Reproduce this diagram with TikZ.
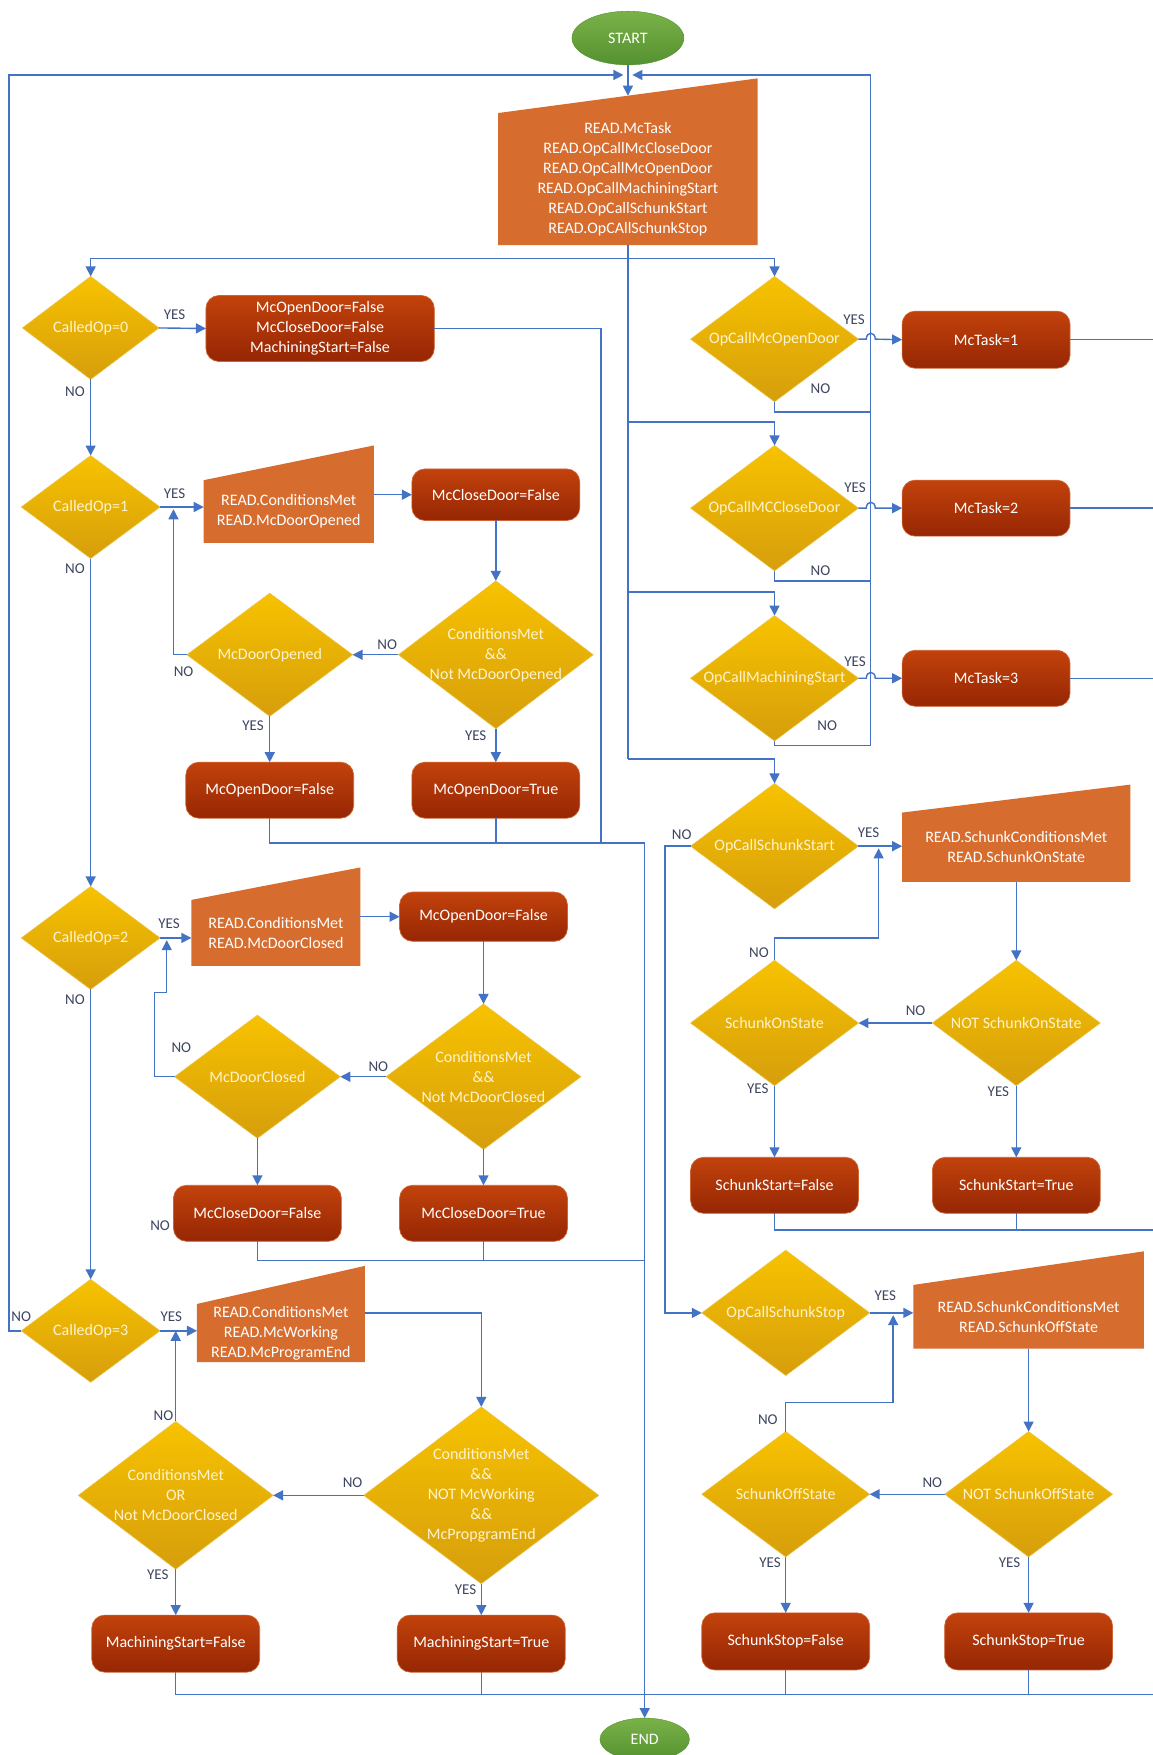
\documentclass[tikz,border=0pt]{standalone}
\usepackage{fontspec}
\setmainfont{Carlito}
\usetikzlibrary{arrows.meta,shapes.geometric,calc}
\definecolor{ln}{RGB}{68,114,196}
\definecolor{lbl}{RGB}{62,70,96}
\definecolor{diaT}{RGB}{247,194,0}
\definecolor{diaB}{RGB}{214,158,12}
\definecolor{diaE}{RGB}{236,196,70}
\definecolor{redT}{RGB}{194,66,12}
\definecolor{redB}{RGB}{150,38,4}
\definecolor{redE}{RGB}{205,100,50}
\definecolor{inp}{RGB}{214,108,46}
\definecolor{grnT}{RGB}{122,178,72}
\definecolor{grnB}{RGB}{84,145,48}
\definecolor{dtx}{RGB}{255,243,205}
\newcommand\K{1.1194}
\newcommand\Dia[6]{\node[dia, minimum width={2*#4*\K*1pt}, minimum height={2*#5*\K*1pt}] (#1) at (#2,#3) {};
  \node[dtxt] (#1t) at (#1.center) {#6};}
\newcommand\Rb[6]{\node[rbox, minimum width={(#3-#2)*\K*1pt}, minimum height={(#5-#4)*\K*1pt}] (#1) at ({(#2+#3)/2},{(#4+#5)/2}) {#6};}
\newcommand\Inp[7]{\fill[inp] (#2,#6) -- (#2,#4) -- (#3,#5) -- (#3,#6) -- cycle;
  \node[itxt, minimum width={(#3-#2)*\K*1pt}, minimum height={(#6-#4)*\K*1pt}] (#1) at ({(#2+#3)/2},{(#4+#6)/2}) {#7};}
\newcommand\Lb[4]{\node[lab] (#1) at (#2,#3) {#4};}
\begin{document}
\begin{tikzpicture}[x=1.1194pt, y=-1.1194pt,
  line/.style={draw=ln, line width=1.4pt},
  arr/.style={line, -{Triangle[length=10pt,width=10pt]}},
  dia/.style={diamond, aspect=1, inner sep=0pt, outer sep=0pt, top color=diaT, bottom color=diaB, draw=diaE, line width=0.6pt},
  dtxt/.style={text=dtx, align=center, font=\fontsize{16}{20}\selectfont, inner sep=0pt},
  rbox/.style={rectangle, rounded corners=13pt, top color=redT, bottom color=redB, draw=redE, line width=0.7pt, text=white, align=center, font=\fontsize{16}{20}\selectfont, inner sep=0pt, outer sep=0pt},
  itxt/.style={rectangle, inner sep=0pt, outer sep=0pt, text=white, align=center, font=\fontsize{16}{20}\selectfont},
  lab/.style={text=lbl, font=\fontsize{15}{18}\selectfont, inner sep=0pt},
  term/.style={ellipse, top color=grnT, bottom color=grnB, draw=grnB, text=white, font=\fontsize{16}{20}\selectfont, inner sep=0pt, outer sep=0pt}]
\useasboundingbox (0,0) rectangle (1030,1568);
\fill[white] (0,0) rectangle (1030,1568);

% terminals
\node[term, minimum width={100*\K*1pt}, minimum height={48*\K*1pt}] (start) at (561,34) {START};
\node[term, minimum width={80*\K*1pt}, minimum height={38*\K*1pt}] (end) at (576,1554) {END};

% input boxes
\Inp{in0}{445}{677}{101}{70}{219}{READ.McTask\\READ.OpCallMcCloseDoor\\READ.OpCallMcOpenDoor\\READ.OpCallMachiningStart\\READ.OpCallSchunkStart\\READ.OpCAllSchunkStop}
\Inp{in1}{182}{334}{429}{398}{485}{READ.ConditionsMet\\READ.McDoorOpened}
\Inp{in2}{171}{322}{804}{775}{863}{READ.ConditionsMet\\READ.McDoorClosed}
\Inp{in3}{176}{326}{1165}{1131}{1217}{READ.ConditionsMet\\READ.McWorking\\READ.McProgramEnd}
\Inp{inD}{806}{1010}{726}{701}{788}{READ.SchunkConditionsMet\\READ.SchunkOnState}
\Inp{inE}{816}{1022}{1148}{1118}{1205}{READ.SchunkConditionsMet\\READ.SchunkOffState}

% diamonds
\Dia{d0}{81}{293}{61}{46}{CalledOp=0}
\Dia{d1}{81}{453}{62}{46}{CalledOp=1}
\Dia{d1b}{443}{585}{87}{66}{ConditionsMet\\\&\&\\Not McDoorOpened}
\Dia{d1a}{241}{585}{74}{55}{McDoorOpened}
\Dia{d2}{81}{838}{62}{46}{CalledOp=2}
\Dia{d2b}{432}{962}{87}{65}{ConditionsMet\\\&\&\\Not McDoorClosed}
\Dia{d2a}{230}{962}{74}{55}{McDoorClosed}
\Dia{d3}{81}{1189}{62}{46}{CalledOp=3}
\Dia{d3b}{430}{1336}{105}{79}{ConditionsMet\\\&\&\\NOT McWorking\\\&\&\\McPropgramEnd}
\Dia{d3a}{157}{1336}{87}{66}{ConditionsMet\\OR\\Not McDoorClosed}
\Dia{dA}{692}{303}{75}{56}{OpCallMcOpenDoor}
\Dia{dB}{692}{454}{75}{56}{OpCallMCCloseDoor}
\Dia{dC}{692}{606}{75}{56}{OpCallMachiningStart}
\Dia{dD}{692}{756}{75}{56}{OpCallSchunkStart}
\Dia{dDb}{908}{914}{75}{56}{NOT SchunkOnState}
\Dia{dDa}{692}{914}{75}{56}{SchunkOnState}
\Dia{dE}{702}{1173}{75}{56}{OpCallSchunkStop}
\Dia{dEb}{919}{1335}{75}{56}{NOT SchunkOffState}
\Dia{dEa}{702}{1335}{75}{56}{SchunkOffState}

% process boxes
\Rb{r0}{184}{388}{264}{323}{McOpenDoor=False\\McCloseDoor=False\\MachiningStart=False}
\Rb{r1a}{368}{518}{419}{465}{McCloseDoor=False}
\Rb{r1c}{166}{316}{681}{731}{McOpenDoor=False}
\Rb{r1d}{368}{518}{681}{731}{McOpenDoor=True}
\Rb{r2a}{357}{507}{797}{841}{McOpenDoor=False}
\Rb{r2c}{155}{305}{1059}{1109}{McCloseDoor=False}
\Rb{r2d}{357}{507}{1059}{1109}{McCloseDoor=True}
\Rb{r3c}{82}{232}{1443}{1494}{MachiningStart=False}
\Rb{r3d}{355}{505}{1443}{1494}{MachiningStart=True}
\Rb{rA}{806}{956}{278}{329}{McTask=1}
\Rb{rB}{806}{956}{429}{479}{McTask=2}
\Rb{rC}{806}{956}{581}{631}{McTask=3}
\Rb{rDa}{617}{767}{1034}{1084}{SchunkStart=False}
\Rb{rDb}{833}{983}{1034}{1084}{SchunkStart=True}
\Rb{rEa}{627}{777}{1441}{1492}{SchunkStop=False}
\Rb{rEb}{844}{994}{1441}{1492}{SchunkStop=True}

% coordinates
\coordinate (in0top) at (561,85.5);
\coordinate (topL) at (557,67);
\coordinate (topR) at (565,67);
\coordinate (j1) at (561,231);
\coordinate (j2) at (561,377);
\coordinate (j3) at (561,529);
\coordinate (j4) at (561,678);
\coordinate (m1) at (576,753);

% top and loops
\draw[arr] (start.south) -- (in0top);
\draw[arr] (d3.west) -- (8,1189) -- (8,67) -- (topL);
\draw[arr] (dC.south) -- (692,666) -- (778,666) -- (778,67) -- (topR);
\draw[line] (dA.south) -- (692,368) -- (778,368);
\draw[line] (dB.south) -- (692,519) -- (778,519);

% trunk
\draw[line] (in0.south) -- (j4);
\draw[arr] (j1) -| (d0.north);
\draw[arr] (j1) -| (dA.north);
\draw[arr] (j2) -| (dB.north);
\draw[arr] (j3) -| (dC.north);
\draw[arr] (j4) -| (dD.north);

% left column
\draw[arr] (d0.east) -- (r0.west);
\draw[line] (r0.east) -- (537,293.5) -- (537,753);
\draw[arr] (d0.south) -- (d1.north);
\draw[arr] (d1.south) -- (d2.north);
\draw[arr] (d2.south) -- (d3.north);

\draw[arr] (d1.east) -- (d1.east -| in1.west);
\draw[arr] (r1a.west -| in1.east) -- (r1a.west);
\draw[arr] (r1a.south) -- (d1b.north);
\draw[arr] (d1b.west) -- (d1a.east);
\draw[arr] (d1a.west) -- (155,585) -- (155,455);
\draw[arr] (d1a.south) -- (r1c.north);
\draw[arr] (d1b.south) -- (r1d.north);
\draw[line] (r1c.south) -- (241,753) -- (m1);
\draw[line] (r1d.south) -- (443,753);
\draw[arr] (m1) -- (end.north);

\draw[arr] (d2.east) -- (d2.east -| in2.west);
\draw[arr] (r2a.west -| in2.east) -- (r2a.west);
\draw[arr] (r2a.south) -- (d2b.north);
\draw[arr] (d2b.west) -- (d2a.east);
\draw[arr] (d2a.west) -- (138,962) -- (138,887) -- (149,887) -- (149,840);
\draw[arr] (d2a.south) -- (r2c.north);
\draw[arr] (d2b.south) -- (r2d.north);
\draw[line] (r2c.south) -- (230,1126) -- (576,1126);
\draw[line] (r2d.south) -- (432,1126);

\draw[arr] (d3.east) -- (d3.east -| in3.west);
\draw[arr] ([yshift=20pt]in3.east) -| (d3b.north);
\draw[arr] (d3b.west) -- (d3a.east);
\draw[arr] (d3a.north) -- (d3a.north |- d3.east);
\draw[arr] (d3a.south) -- (r3c.north);
\draw[arr] (d3b.south) -- (r3d.north);
\draw[line] (r3c.south) -- (157,1514) -- (1030,1514);
\draw[line] (r3d.south) -- (430,1514);

% right column
\draw[arr] (dA.east) -- (774,303) .. controls (774,296) and (782,296) .. (782,303) -- (rA.west);
\draw[arr] (dB.east) -- (774,454) .. controls (774,447) and (782,447) .. (782,454) -- (rB.west);
\draw[arr] (dC.east) -- (774,606) .. controls (774,599) and (782,599) .. (782,606) -- (rC.west);
\draw[line] (rA.east) -- (1030,303.5);
\draw[line] (rB.east) -- (1030,454);
\draw[line] (rC.east) -- (1030,606);

\draw[arr] (dD.east) -- (dD.east -| inD.west);
\draw[arr] (inD.south) -- (dDb.north);
\draw[arr] (dDb.west) -- (dDa.east);
\draw[arr] (dDa.north) -- (692,838) -- (785,838) -- (785,758);
\draw[arr] (dDa.south) -- (rDa.north);
\draw[arr] (dDb.south) -- (rDb.north);
\draw[line] (rDa.south) -- (692,1099) -- (1030,1099);
\draw[line] (rDb.south) -- (908,1099);

\draw[arr] (dD.west) -- (594,756) -- (594,1173) -- (dE.west);
\draw[arr] (dE.east) -- (dE.east -| inE.west);
\draw[arr] (inE.south) -- (dEb.north);
\draw[arr] (dEb.west) -- (dEa.east);
\draw[arr] (dEa.north) -- (702,1253) -- (798,1253) -- (798,1175);
\draw[arr] (dEa.south) -- (rEa.north);
\draw[arr] (dEb.south) -- (rEb.north);
\draw[line] (rEa.south) -- (702,1514);
\draw[line] (rEb.south) -- (919,1514);

% labels
\Lb{l1}{156}{281}{YES}
\Lb{l2}{67}{350}{NO}
\Lb{l3}{156}{441}{YES}
\Lb{l4}{67}{508}{NO}
\Lb{l5}{346}{576}{NO}
\Lb{l6}{164}{600}{NO}
\Lb{l7}{226}{648}{YES}
\Lb{l8}{425}{657}{YES}
\Lb{l9}{151}{825}{YES}
\Lb{l10}{67}{893}{NO}
\Lb{l11}{338}{953}{NO}
\Lb{l12}{162}{936}{NO}
\Lb{l13}{143}{1095}{NO}
\Lb{l14}{19}{1176}{NO}
\Lb{l15}{153}{1176}{YES}
\Lb{l16}{315}{1325}{NO}
\Lb{l17}{146}{1265}{NO}
\Lb{l18}{141}{1407}{YES}
\Lb{l19}{416}{1420}{YES}
\Lb{l20}{763}{286}{YES}
\Lb{l21}{733}{347}{NO}
\Lb{l22}{764}{436}{YES}
\Lb{l23}{733}{510}{NO}
\Lb{l24}{764}{591}{YES}
\Lb{l25}{739}{648}{NO}
\Lb{l26}{609}{746}{NO}
\Lb{l27}{776}{744}{YES}
\Lb{l28}{818}{903}{NO}
\Lb{l29}{678}{851}{NO}
\Lb{l30}{677}{973}{YES}
\Lb{l31}{892}{975}{YES}
\Lb{l32}{791}{1158}{YES}
\Lb{l33}{833}{1325}{NO}
\Lb{l34}{686}{1268}{NO}
\Lb{l35}{688}{1396}{YES}
\Lb{l36}{902}{1396}{YES}
\end{tikzpicture}
\end{document}
